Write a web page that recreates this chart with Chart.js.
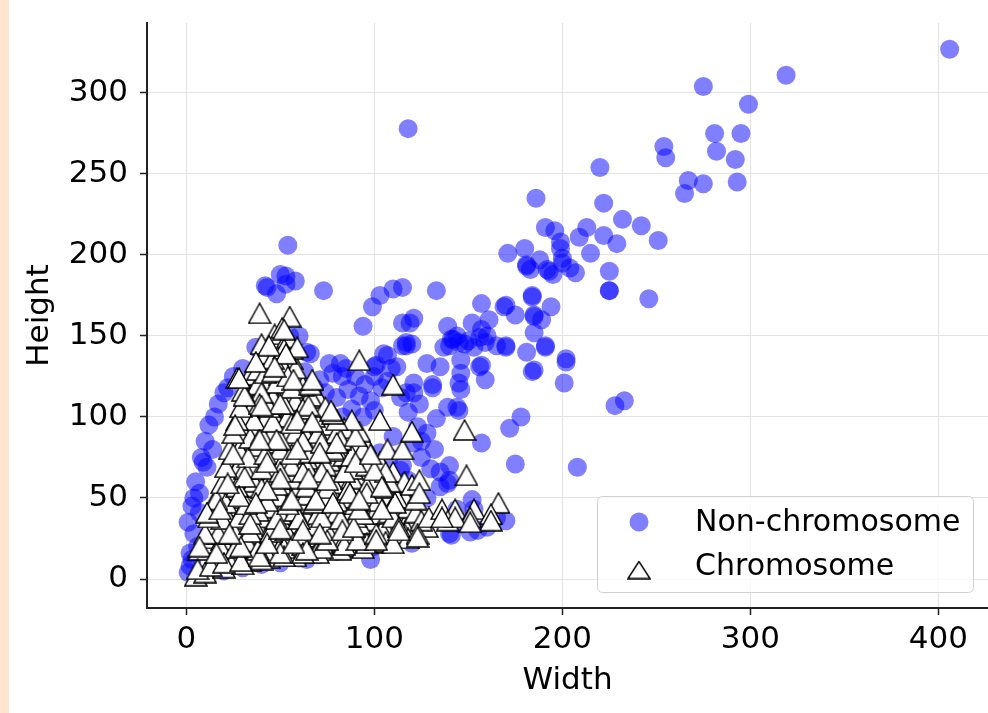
<!DOCTYPE html>
<html>
<head>
<meta charset="utf-8">
<script src="https://cdn.jsdelivr.net/npm/chart.js@4.4.1/dist/chart.umd.min.js"></script>
<style>
  html, body { margin: 0; padding: 0; background: #fff; }
  #wrap { position: relative; width: 988px; height: 713px; }
</style>
</head>
<body>
<div id="wrap"><canvas id="chart" width="988" height="713"></canvas></div>
<script>
// width / height pairs
const nonChromosomePoints = [
  // upper right, sparse
  [406, 327], [319, 311], [275, 304], [299, 293], [281, 275], [295, 275], [282, 264], [292, 259],
  [293, 245], [254, 267], [255, 260], [267, 246], [265, 238], [275, 244], [220, 254], [186, 235],
  [222, 232], [232, 222], [242, 218], [251, 209], [209, 211], [213, 217], [222, 212], [229, 207],
  [215, 201], [191, 217], [196, 215], [199, 208], [199, 204], [180, 204], [171, 201], [181, 193],
  [188, 197], [193, 190], [200, 195], [204, 192], [207, 189], [225, 190], [225, 178], [225, 178],
  [246, 173], [184, 175], [194, 168], [170, 169], [175, 163], [185, 162], [189, 160], [185, 152],
  [170, 144], [181, 140], [191, 144], [191, 143], [202, 136], [202, 134], [201, 121], [228, 107],
  [233, 110], [208, 69], [183, 191], [192, 191], [195, 188], [200, 198], [181, 194], [118, 278],
  // middle
  [133, 178], [157, 170], [169, 168], [184, 174], [185, 163], [161, 160], [157, 154], [152, 158],
  [139, 156], [121, 161], [115, 158], [141, 148], [145, 146], [156, 149], [159, 146], [165, 144],
  [170, 143], [137, 143], [117, 146], [128, 133], [135, 131], [146, 135], [145, 121], [157, 132],
  [159, 123], [121, 121], [131, 120], [115, 180], [185, 129], [184, 128], [142, 148], [148, 145],
  [150, 147], [153, 143], [144, 150], [160, 150], [105, 139], [117, 144], [112, 131], [101, 132],
  [140, 144], [146, 127], [156, 131], [146, 117], [131, 118], [121, 115], [114, 112], [124, 108],
  [118, 103], [139, 106], [145, 104], [133, 99], [178, 100], [172, 93], [157, 84], [175, 71],
  [140, 61], [135, 57], [152, 49], [170, 36], [141, 27], [151, 29], [98, 12], [128, 90],
  [73, 178], [43, 180], [48, 176], [53, 182], [103, 175], [110, 179], [99, 168], [94, 156],
  [119, 158], [120, 145], [115, 144], [107, 138], [109, 130], [100, 131], [107, 122], [117, 115],
  [144, 106], [123, 94], [121, 84], [110, 88], [103, 78], [114, 67], [118, 61], [139, 59],
  [144, 43], [146, 34], [153, 43], [140, 28], [64, 12], [60, 20], [54, 206], [42, 181],
  [50, 188], [53, 187], [58, 184],
  // behind the triangles
  [71, 123], [76, 133], [82, 133], [78, 127], [85, 130], [90, 125], [95, 120], [74, 115],
  [80, 112], [86, 117], [92, 113], [98, 110], [88, 105], [94, 100], [100, 104], [83, 100],
  [104, 118], [100, 125], [66, 139], [83, 125], [63, 128], [68, 118], [100, 70], [108, 75],
  [115, 70], [125, 75], [130, 68], [120, 55], [128, 50], [110, 58], [100, 60], [135, 66],
  [140, 70], [132, 80], [125, 85], [22, 118], [25, 125], [30, 130], [35, 122], [45, 125],
  [55, 128], [50, 115], [60, 112], [40, 140], [48, 147], [55, 150], [60, 150], [64, 140],
  [37, 143],
  // left and bottom edge
  [20, 115], [14, 80], [11, 69], [7, 53], [7, 41], [4, 28], [2, 16], [2, 8],
  [12, 95], [10, 85], [8, 75], [5, 60], [3, 45], [1, 35], [6, 20], [15, 100],
  [17, 108], [9, 72], [4, 50], [1, 4], [3, 12], [10, 3], [20, 5], [30, 7],
  [40, 9], [50, 10], [60, 13], [70, 15], [80, 17], [90, 19], [100, 20], [110, 22],
  [120, 22], [160, 32], [165, 38], [155, 30]
];

const chromosomePoints = [
  // interior rows
  [12, 22], [22, 18], [34, 17], [46, 19], [58, 20], [68, 21], [80, 22],
  [16, 12], [26, 13], [36, 14], [46, 15], [56, 17], [66, 18], [76, 20], [88, 20], [100, 22],
  [24, 9], [34, 11], [44, 13], [58, 14], [70, 16], [82, 18], [94, 19],
  [14, 30], [28, 27], [40, 28], [56, 28], [66, 26], [78, 27], [95, 30], [108, 29],
  [10, 25], [19, 24], [32, 23], [44, 25], [52, 24], [61, 24], [72, 23], [86, 26], [98, 26], [114, 27],
  [18, 20], [26, 19], [38, 18], [52, 19], [62, 21], [72, 22], [84, 24], [96, 24], [106, 26],
  [16, 36], [26, 37], [42, 38], [54, 36], [64, 38], [76, 36], [86, 39], [97, 36], [118, 37],
  [13, 33], [21, 32], [37, 31], [46, 33], [57, 33], [68, 33], [80, 34], [92, 34], [105, 33], [117, 31], [128, 32],
  [17, 28], [25, 30], [34, 29], [45, 29], [53, 30], [60, 27], [75, 30], [88, 28], [104, 30], [116, 28],
  [14, 46], [24, 45], [46, 44], [62, 46], [74, 44], [84, 46], [98, 45], [118, 44],
  [15, 40], [21, 40], [30, 41], [38, 42], [50, 40], [58, 42], [70, 40], [80, 41], [90, 38], [100, 40], [108, 41], [122, 41],
  [19, 37], [28, 38], [34, 40], [48, 37], [60, 37], [72, 38], [82, 37], [94, 40], [110, 38], [125, 36],
  [20, 55], [34, 57], [52, 55], [60, 57], [70, 56], [82, 58], [92, 58], [112, 55],
  [18, 51], [28, 50], [40, 50], [50, 51], [64, 52], [74, 50], [86, 50], [98, 51], [106, 50], [116, 51],
  [21, 47], [32, 46], [43, 48], [54, 46], [68, 47], [80, 48], [90, 46], [102, 48], [112, 50], [122, 49],
  [26, 66], [38, 64], [46, 67], [58, 66], [70, 68], [80, 66], [95, 64], [110, 66],
  [24, 61], [36, 60], [44, 61], [56, 62], [68, 61], [78, 59], [88, 62], [100, 61], [116, 60],
  [27, 57], [40, 56], [48, 58], [64, 57], [75, 56], [86, 55], [96, 57], [108, 60], [120, 58],
  [30, 74], [36, 78], [52, 74], [64, 74], [76, 73], [84, 76], [103, 72],
  [28, 70], [34, 70], [44, 69], [56, 70], [64, 69], [74, 70], [88, 68], [96, 70], [106, 66],
  [31, 68], [40, 68], [50, 66], [62, 66], [72, 66], [84, 66], [100, 67],
  [28, 86], [44, 84], [54, 88], [66, 86], [74, 88], [86, 86], [95, 84],
  [28, 80], [38, 82], [50, 80], [62, 79], [68, 82], [80, 79], [90, 80],
  [33, 75], [42, 77], [56, 77], [66, 78], [78, 80], [88, 76], [94, 80],
  [32, 96], [40, 94], [50, 96], [62, 92], [74, 95], [84, 93],
  [30, 91], [36, 90], [46, 91], [58, 90], [70, 90], [80, 90], [92, 91],
  [34, 87], [40, 89], [50, 86], [62, 85], [72, 84], [82, 86], [90, 88],
  [34, 104], [46, 102], [56, 106], [70, 108],
  [30, 101], [42, 99], [54, 100], [64, 101], [74, 102], [88, 98],
  [36, 98], [46, 97], [56, 96], [68, 100], [80, 98],
  [36, 116], [44, 118], [52, 114], [62, 116], [70, 112],
  [34, 111], [46, 112], [58, 110], [66, 113],
  [36, 108], [44, 106], [52, 108], [62, 105], [74, 106],
  [34, 126], [42, 122], [50, 126], [38, 120], [48, 121], [62, 119],
  [40, 115], [56, 118], [66, 120],
  [44, 133], [56, 136], [38, 129], [52, 130], [58, 130],
  [42, 127], [46, 128], [54, 125],
  [42, 139], [49, 141], [56, 142], [48, 147], [47, 151], [54, 149],
  [46, 136], [52, 142], [40, 145],
  // left edge and bottom row
  [5, 2], [7, 18], [10, 28], [12, 38], [16, 49], [19, 59], [21, 69], [23, 80],
  [25, 90], [27, 98], [29, 106], [10, 4], [20, 7], [30, 9], [40, 12], [52, 14],
  [62, 16], [72, 19], [84, 21], [96, 22], [106, 23], [118, 25],
  // visible on top
  [6, 6], [13, 8], [20, 10], [29, 11], [39, 14], [50, 16], [64, 18], [110, 22],
  [7, 20], [16, 16], [29, 20], [43, 22], [57, 22], [75, 24], [91, 24],
  [11, 41], [18, 43], [34, 34], [23, 28], [50, 31], [62, 30], [71, 28], [83, 30],
  [89, 32], [101, 28], [113, 32], [123, 28], [123, 26], [113, 30], [101, 24],
  [129, 38], [136, 43], [143, 43], [153, 43], [166, 47], [162, 40], [151, 38], [139, 36],
  [143, 38], [162, 36], [136, 38], [151, 35],
  [31, 63], [50, 62], [65, 62], [75, 61], [105, 56], [124, 61], [124, 53], [87, 53],
  [96, 53], [43, 55], [28, 51], [37, 47], [56, 49], [69, 49], [78, 47], [111, 47],
  [104, 43], [92, 43], [22, 59], [92, 49], [104, 57],
  [48, 86], [39, 86], [80, 84], [107, 80], [115, 80], [25, 77], [59, 80], [71, 78],
  [90, 72], [98, 77], [43, 72], [149, 64], [120, 91], [148, 92],
  [39, 108], [50, 108], [65, 107], [78, 102], [103, 98], [59, 98], [26, 95], [67, 97],
  [27, 124], [57, 123], [67, 123], [30, 116], [110, 120], [31, 113], [40, 107], [77, 104],
  [44, 144], [59, 143], [53, 139], [92, 135], [37, 134], [47, 131], [28, 124],
  [39, 164], [55, 162], [51, 155], [52, 154]
];

const seriesLabels = ['Non-chromosome', 'Chromosome'];
const xTickValues = [0, 100, 200, 300, 400];
const yTickValues = [0, 50, 100, 150, 200, 250, 300];

const FONT = '"DejaVu Sans", "Liberation Sans", sans-serif';
const CIRCLE_COLOR = 'rgba(0, 0, 255, 0.5)';

// matplotlib-like '^' marker: box-centred isosceles triangle
function makeTriangle(w, h) {
  const c = document.createElement('canvas');
  c.width = w; c.height = h;
  const g = c.getContext('2d');
  g.beginPath();
  g.moveTo(w / 2, 1);
  g.lineTo(1, h - 1);
  g.lineTo(w - 1, h - 1);
  g.closePath();
  g.fillStyle = '#ffffff';
  g.fill();
  g.lineWidth = 1.4;
  g.strokeStyle = '#000000';
  g.stroke();
  return c;
}
const triangleMarker = makeTriangle(24, 22);
const legendTriangle = makeTriangle(24, 19);

const bgPlugin = {
  id: 'bgPlugin',
  beforeDraw(chart) {
    const { ctx, width, height } = chart;
    ctx.save();
    ctx.fillStyle = '#ffffff';
    ctx.fillRect(0, 0, width, height);
    ctx.fillStyle = '#fde6cd';
    ctx.fillRect(0, 0, 9, height);
    ctx.restore();
  }
};

const boxLegend = {
  id: 'boxLegend',
  afterDraw(chart) {
    const { ctx } = chart;
    const ds = chart.data.datasets;
    ctx.save();
    ctx.beginPath();
    ctx.roundRect(597.5, 496.5, 376, 96, 5);
    ctx.fillStyle = 'rgba(255,255,255,0.8)';
    ctx.fill();
    ctx.strokeStyle = '#d0d0d0';
    ctx.lineWidth = 1;
    ctx.stroke();

    ctx.beginPath();
    ctx.arc(639, 522, 9.5, 0, Math.PI * 2);
    ctx.fillStyle = CIRCLE_COLOR;
    ctx.fill();
    ctx.drawImage(legendTriangle, 639 - 12, 570 - 9.5);

    ctx.fillStyle = '#000';
    ctx.font = '30px ' + FONT;
    ctx.textBaseline = 'alphabetic';
    ctx.textAlign = 'left';
    ctx.fillText(ds[0].label, 695, 531);
    ctx.fillText(ds[1].label, 695, 575);
    ctx.restore();
  }
};

const ctx = document.getElementById('chart').getContext('2d');
new Chart(ctx, {
  type: 'scatter',
  data: {
    datasets: [
      {
        label: seriesLabels[0],
        data: nonChromosomePoints.map(([x, y]) => ({ x, y })),
        pointStyle: 'circle',
        pointRadius: 9.5,
        pointBorderWidth: 0,
        backgroundColor: CIRCLE_COLOR,
        borderColor: 'rgba(0,0,0,0)',
        order: 2
      },
      {
        label: seriesLabels[1],
        data: chromosomePoints.map(([x, y]) => ({ x, y })),
        pointStyle: triangleMarker,
        pointRadius: 11,
        order: 1
      }
    ]
  },
  options: {
    responsive: false,
    animation: false,
    layout: { autoPadding: false, padding: { top: 23, right: 0, left: 0, bottom: 0 } },
    plugins: {
      legend: { display: false },
      tooltip: { enabled: false }
    },
    scales: {
      x: {
        type: 'linear',
        min: -20.9,
        max: 426.4,
        afterBuildTicks: (s) => { s.ticks = xTickValues.map((v) => ({ value: v })); },
        afterFit: (s) => { s.height = 105; s.paddingLeft = 0; s.paddingRight = 0; },
        grid: { color: '#e3e3e3', lineWidth: 1, tickLength: 7, tickWidth: 1.5, tickColor: '#222' },
        border: { color: '#222', width: 2 },
        ticks: { color: '#000', font: { family: FONT, size: 31 }, padding: 6, maxRotation: 0 },
        title: { display: true, text: 'Width', color: '#000', font: { family: FONT, size: 31 }, padding: { top: 0, bottom: 13 } }
      },
      y: {
        type: 'linear',
        min: -17.9,
        max: 343.2,
        afterBuildTicks: (s) => { s.ticks = yTickValues.map((v) => ({ value: v })); },
        afterFit: (s) => { s.width = 147; s.paddingTop = 0; s.paddingBottom = 0; },
        grid: { color: '#e3e3e3', lineWidth: 1, tickLength: 7, tickWidth: 1.5, tickColor: '#222' },
        border: { color: '#222', width: 2 },
        ticks: { color: '#000', font: { family: FONT, size: 31 }, padding: 12 },
        title: { display: true, text: 'Height', color: '#000', font: { family: FONT, size: 31 }, padding: { top: 21, bottom: 0 } }
      }
    }
  },
  plugins: [bgPlugin, boxLegend]
});
</script>
</body>
</html>
